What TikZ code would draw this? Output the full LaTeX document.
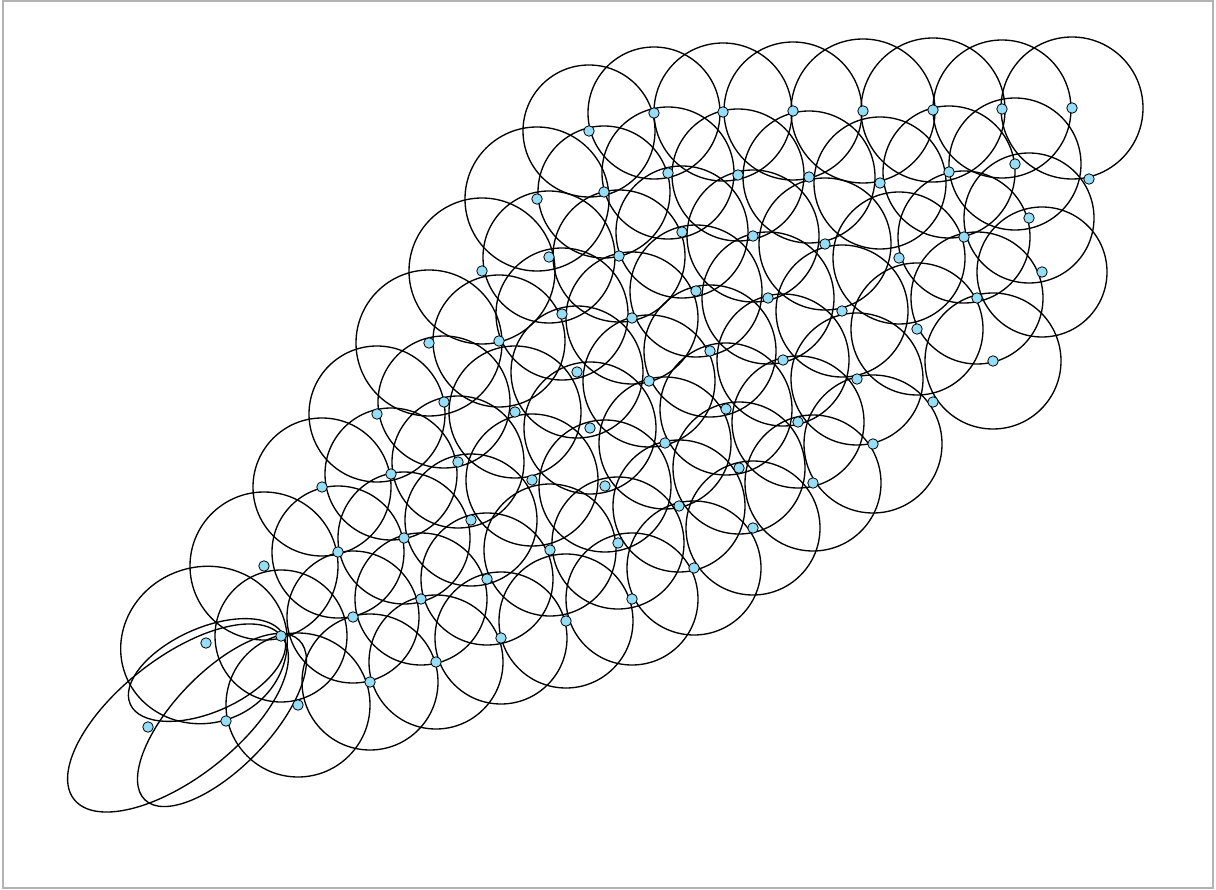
\documentclass[tikz,border=0pt]{standalone}
\usetikzlibrary{backgrounds}
\definecolor{nodefill}{RGB}{150,222,248}
\tikzset{
  vtx/.style={circle,draw=black,fill=nodefill,line width=0.8pt,inner sep=0pt,minimum size=10.5pt},
  ring/.style={draw=black,line width=1.35pt}
}
\begin{document}
\begin{tikzpicture}[x=1pt,y=-1pt]
\useasboundingbox (0,0) rectangle (1216,890);
\draw[black!30,line width=1.2pt] (3,1) rectangle (1213,888);
\foreach \i/\x/\y in {1/589/131,2/654/113,3/723/112,4/793/111,5/863/111,6/933/110,7/1002/109,8/1072/108,
9/604/192,10/668/173,11/738/175,12/809/177,13/880/183,14/949/172,15/1015/164,16/1089/179,
17/537/199,18/549/257,19/619/256,20/682/232,21/753/236,22/825/244,23/899/258,24/964/237,25/1029/218,
26/1042/272,27/977/298,28/993/361,29/917/329,30/842/311,31/768/298,32/696/291,33/632/318,34/562/314,
35/482/271,36/499/341,37/429/343,38/577/372,39/649/381,40/710/351,41/783/360,42/857/379,43/933/402,
44/873/444,45/798/422,46/726/409,47/665/443,48/590/428,49/515/412,50/444/402,51/377/414,52/458/462,
53/391/474,54/322/487,55/532/480,56/605/486,57/679/506,58/739/468,59/813/483,60/753/528,61/694/568,
62/632/599,63/618/543,64/550/550,65/471/520,66/404/538,67/338/552,68/264/566,69/487/579,70/421/599,
71/353/617,72/281/636,73/206/643,74/148/727,75/226/721,76/298/705,77/370/682,78/436/662,79/501/638,80/566/621}
  \node[vtx] (n\i) at (\x,\y) {};
\begin{scope}[on background layer]
\foreach \i/\r in {1/66,2/66,3/69,4/69,5/72,6/72,7/69,8/71,9/66,10/66,11/66,12/66,13/66,14/66,15/66,
17/72,18/66,19/66,20/66,21/66,22/66,23/66,24/66,25/65,26/65,27/66,28/68,29/66,30/66,
31/66,32/66,33/66,34/66,35/73,36/66,37/73,38/66,39/66,40/66,41/66,42/66,44/69,45/66,46/66,47/66,48/66,49/66,50/66,
51/68,52/66,53/66,54/69,55/66,56/66,57/66,58/66,59/68,60/67,61/67,62/66,63/66,64/66,65/66,66/66,67/66,68/74,69/66,70/66,
71/66,72/66,76/72,77/68,78/67,79/66,80/67}
  \draw[ring] (n\i) circle[radius=\r];
\draw[ring,rotate around={20:(204,645)}] (204,645) ellipse[x radius=84,y radius=78];
\draw[ring,rotate around={24:(207,670)}] (207,670) ellipse[x radius=84,y radius=42];
\draw[ring,rotate around={38:(178,718)}] (178,718) ellipse[x radius=132,y radius=60];
\draw[ring,rotate around={46:(222,720)}] (222,720) ellipse[x radius=111,y radius=48];
\end{scope}
\end{tikzpicture}
\end{document}
